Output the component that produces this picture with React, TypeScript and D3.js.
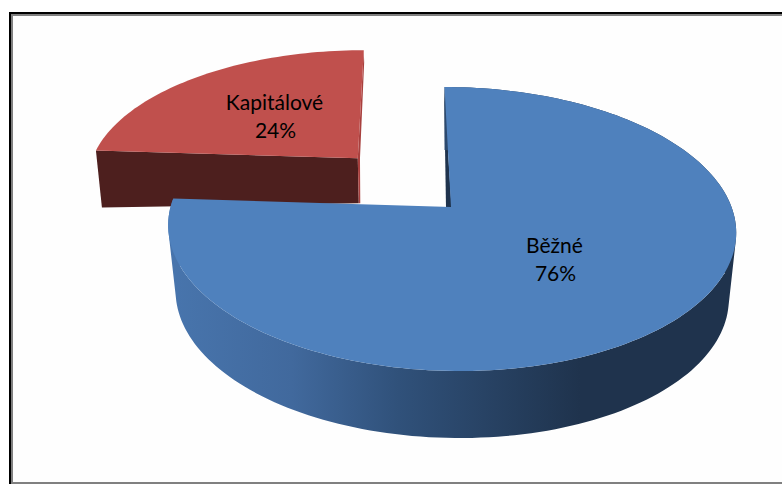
import React from "react";
import * as d3 from "d3";

const categories = ["Běžné", "Kapitálové"];
const shares = [76, 24];
const topColors = ["#4f81bd", "#c0504d"];

const W = 782, H = 484;
const apexX = 451, apexY = 207, R = 280.5, S = 138.6, K = 0.155, SKEW = 0.054;
const EXPLODE = [0, 0.51];
const RED_SHIFT = 2;

type P = [number, number];
const project = (u: number, v: number): P => {
  const w = 1 + K * v;
  const yRel = (S * v) / w;
  return [apexX + (R * u) / w - SKEW * yRel, apexY - yRel];
};
const projectRed = (u: number, v: number): P => {
  const [x, y] = project(u, v);
  return [x + RED_SHIFT, y];
};
// Projected rim of the lower face: the drop and inward pull of each point
const lowerBlue = (u: number, v: number): P => {
  const [x, y] = project(u, v);
  return [x - 7.5 * u, y + 65 - 2 * v];
};
const lowerRed = (u: number, v: number, u0: number, v0: number): P => {
  const [x, y] = projectRed(u, v);
  const du = u - u0;
  return [x - 5 * du + 1, y + 45 - 12 * du];
};

const pathOf = (pts: P[]) => d3.line()(pts as [number, number][]) + "Z";
// same winding for every quad, so overlapping front and back faces never cancel out
const wound = (pts: P[]) => (d3.polygonArea(pts) < 0 ? pts.slice().reverse() : pts);

export default function App() {
  const arcs = d3.pie<number>().value((d) => d).sort(null)(shares);
  const blue = arcs[0], red = arcs[1];

  const mid = (red.startAngle + red.endAngle) / 2;
  const u0 = Math.sin(mid) * EXPLODE[1], v0 = Math.cos(mid) * EXPLODE[1];

  const angles = (a: number, b: number, n = 180) => d3.range(n + 1).map((i) => a + ((b - a) * i) / n);

  // blue
  const blueRim = angles(blue.startAngle, blue.endAngle);
  const blueTop = pathOf([[apexX, apexY], ...blueRim.map((t) => project(Math.sin(t), Math.cos(t)))]);
  const blueSide = d3.pairs(blueRim).map(([a, b]) =>
    pathOf(wound([
      project(Math.sin(a), Math.cos(a)),
      project(Math.sin(b), Math.cos(b)),
      lowerBlue(Math.sin(b), Math.cos(b)),
      lowerBlue(Math.sin(a), Math.cos(a)),
    ]))
  ).join("");

  // red
  const redRim = angles(red.startAngle, red.endAngle, 60);
  const redTop = pathOf([
    projectRed(u0, v0),
    ...redRim.map((t) => projectRed(u0 + Math.sin(t), v0 + Math.cos(t))),
  ]);
  const rs = red.startAngle;
  const rA = projectRed(u0 + Math.sin(rs), v0 + Math.cos(rs));
  const rB = projectRed(u0, v0);
  const rC = lowerRed(u0, v0, u0, v0);
  const rD = lowerRed(u0 + Math.sin(rs), v0 + Math.cos(rs), u0, v0);
  const redSide = pathOf([rA, rB, rC, rD]);
  const rTop = projectRed(u0, v0 + 1);
  const redStrip = pathOf([rTop, rB, rC, [rC[0] + 1.5, rC[1]], [rB[0] + 2.2, rB[1]], [rTop[0] + 0.4, rTop[1] + 12]]);

  // inner wall of the blue slice, seen in the notch
  const bTop = project(0, 1);
  const notch = pathOf([[bTop[0] - 0.5, bTop[1]], [apexX + 0.5, apexY], [apexX - 5, apexY]]);

  const fontFamily = "Lato, 'Noto Sans', sans-serif";
  const label = (x: number, y: number, name: string, pct: number) => (
    <text x={x} y={y} textAnchor="middle" fontFamily={fontFamily} fontSize={21} fill="#000">
      <tspan x={x}>{name}</tspan>
      <tspan x={x + 1} dy={28}>{pct}%</tspan>
    </text>
  );

  return (
    <svg width={W} height={H} style={{ position: "absolute", left: 0, top: 0, display: "block" }}>
      <defs>
        <linearGradient id="side" gradientUnits="userSpaceOnUse" x1={168} x2={580} y1={0} y2={0}>
          <stop offset="0" stopColor="#4875ad" />
          <stop offset="0.3" stopColor="#41699d" />
          <stop offset="0.56" stopColor="#30517a" />
          <stop offset="1" stopColor="#1f334d" />
        </linearGradient>
      </defs>
      <rect width={W} height={H} fill="#fff" />
      <rect x={13} y={16} width={W - 13} height={466} fill="#fefefe" />
      <rect x={9} y={12} width={W - 9} height={2} fill="#000" />
      <rect x={11} y={14} width={W - 11} height={2} fill="#808080" />
      <rect x={9} y={12} width={2} height={H - 12} fill="#000" />
      <rect x={11} y={14} width={2} height={H - 14} fill="#808080" />
      <rect x={11} y={482} width={W - 11} height={2} fill="#808080" />

      <path d={redSide} fill="#4d1f1e" />
      <path d={redStrip} fill="#a8403e" />
      <path d={redTop} fill={topColors[1]} />
      <path d={notch} fill="#1f334d" />
      <path d={blueSide} fill="url(#side)" />
      <path d={blueTop} fill={topColors[0]} />
      {label(274.5, 110, categories[1], shares[1])}
      {label(554.5, 252.5, categories[0], shares[0])}
    </svg>
  );
}
